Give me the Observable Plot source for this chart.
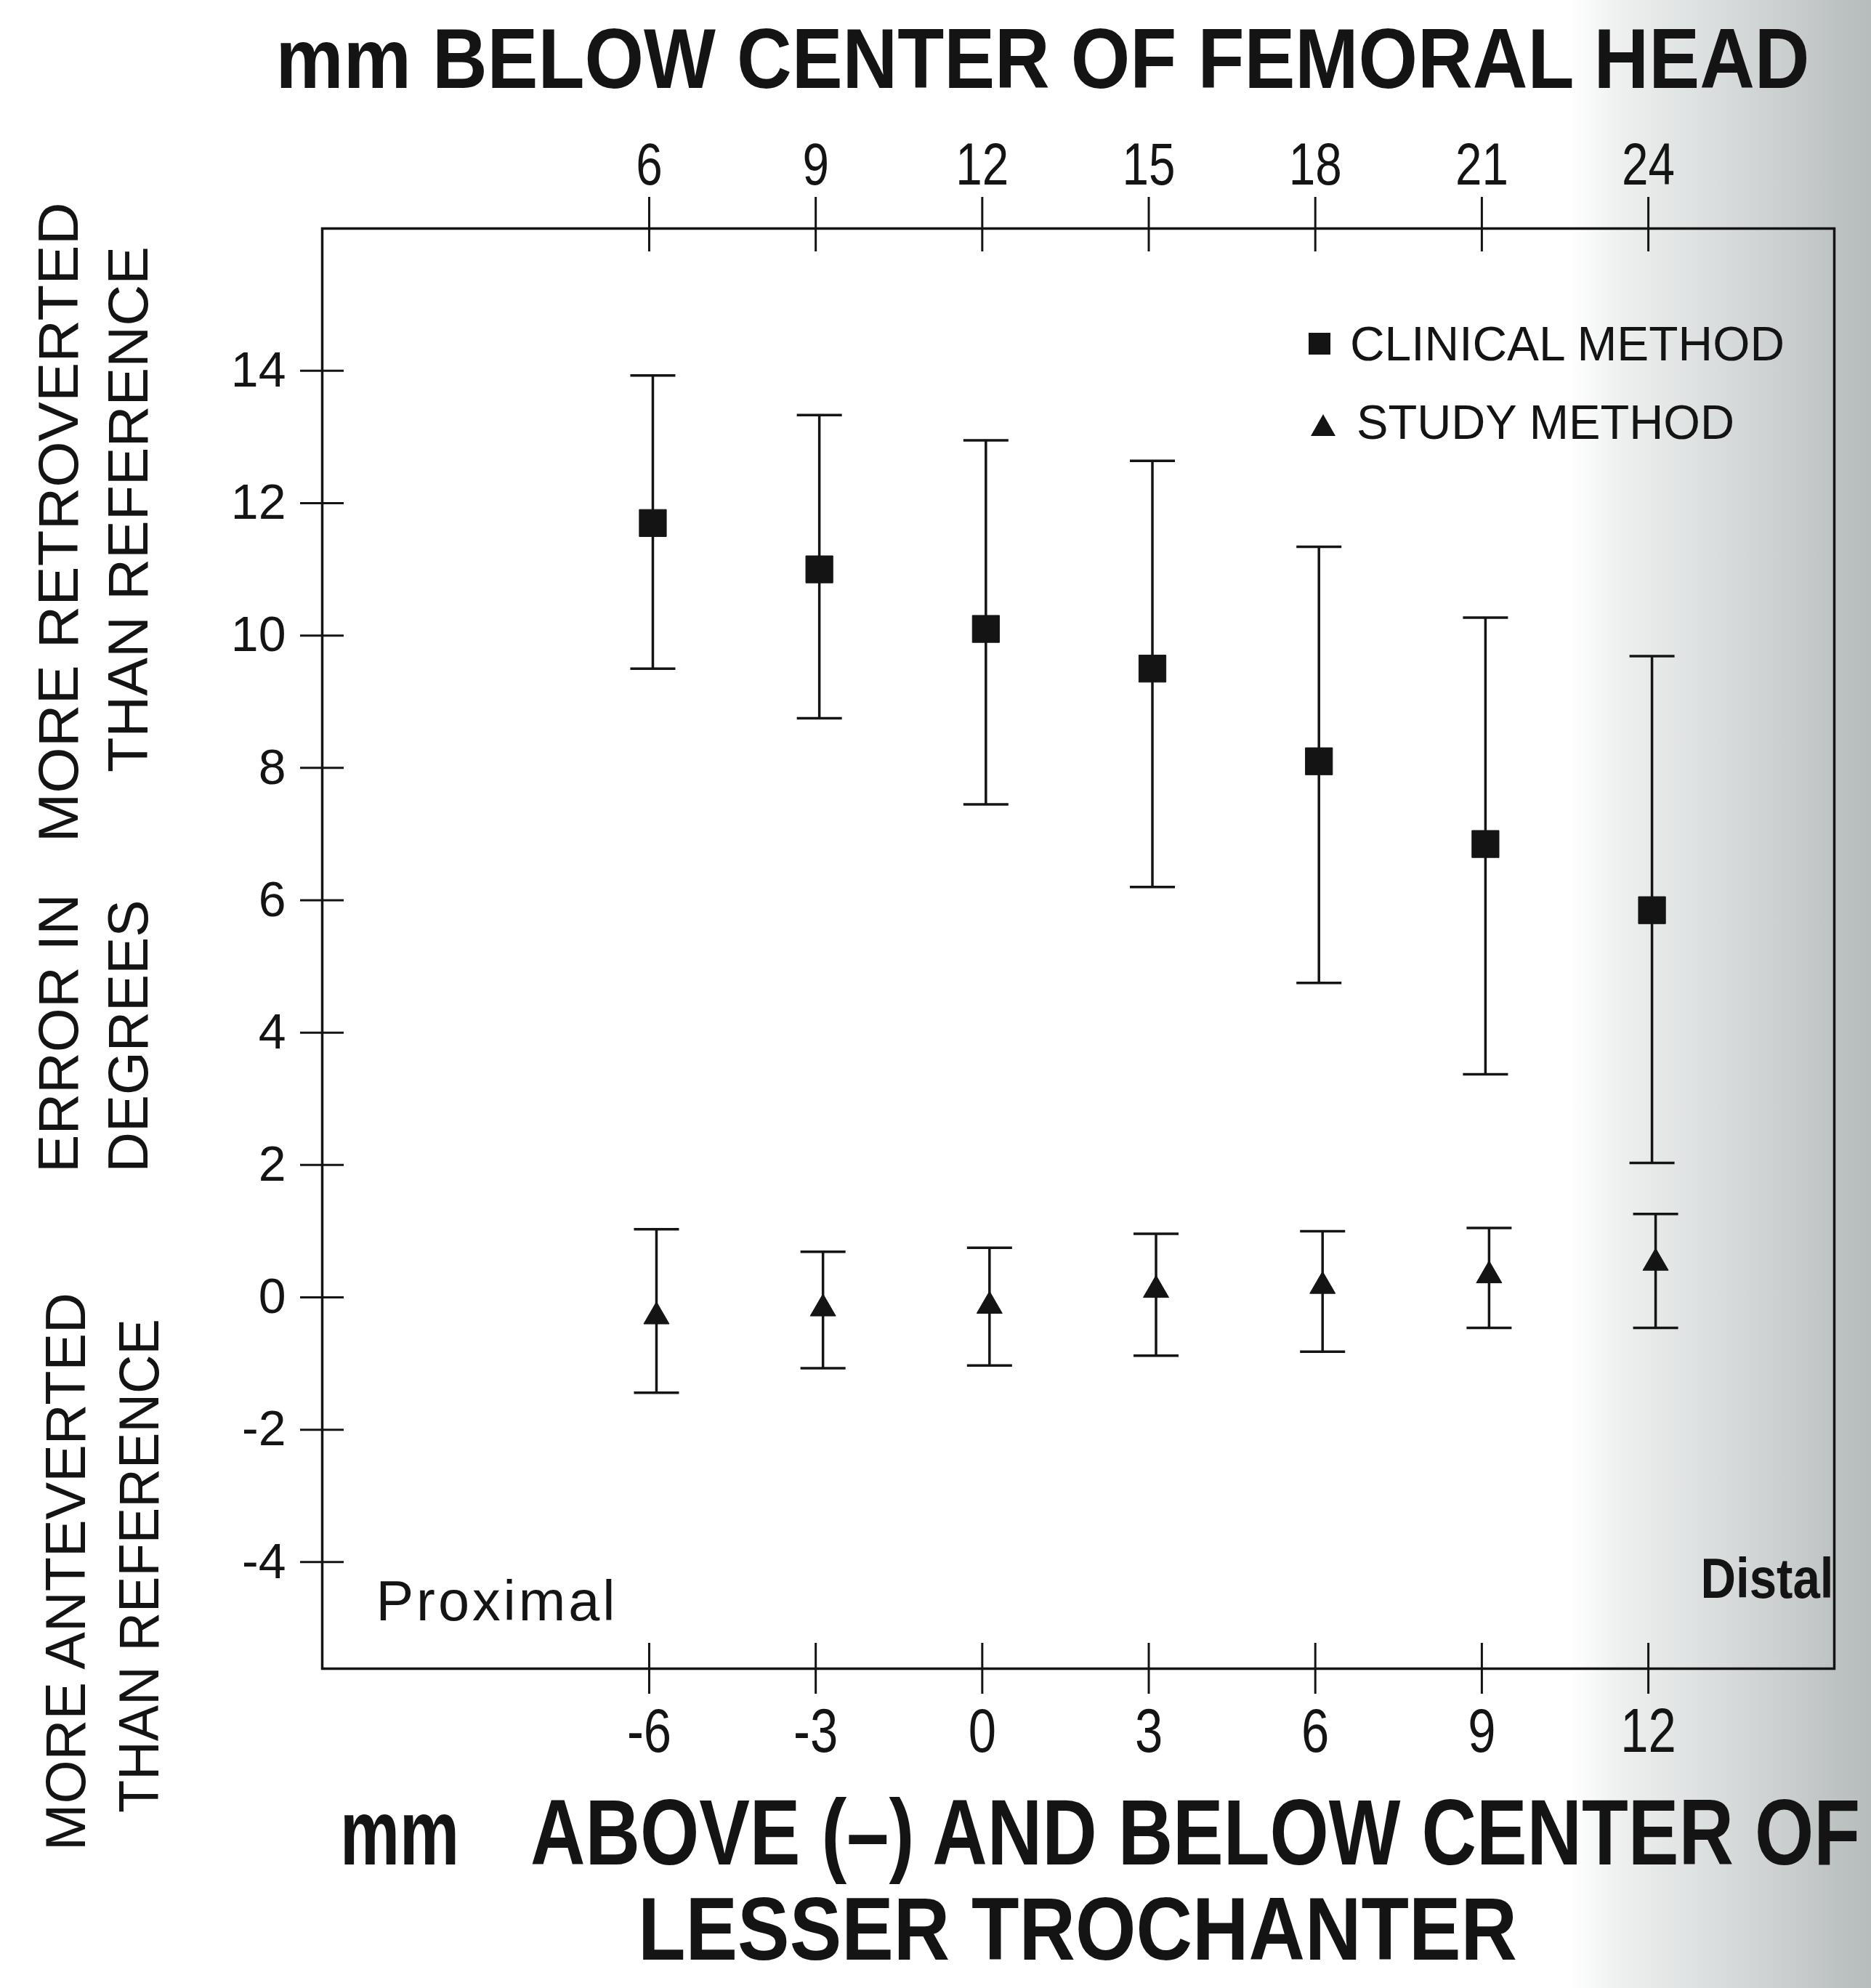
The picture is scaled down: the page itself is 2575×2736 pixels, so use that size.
<!DOCTYPE html>
<html>
<head>
<meta charset="utf-8">
<script src="https://cdn.jsdelivr.net/npm/d3@7"></script>
<script src="https://cdn.jsdelivr.net/npm/@observablehq/plot@0.6"></script>
<style>
html, body { margin: 0; padding: 0; }
body {
  width: 2575px; height: 2736px; overflow: hidden;
  background: linear-gradient(to right, #ffffff 0px, #ffffff 2160px, #eef0f0 2230px, #dcdfdf 2350px, #cacece 2460px, #bcc1c1 2530px, #b7bcbc 2575px);
}
#wrap { position: relative; width: 2575px; height: 2736px; font-family: "Liberation Sans", Arial, Helvetica, sans-serif; color: #141414; }
#wrap > svg { position: absolute; left: 0; top: 0; }
.lbl { position: absolute; left: 0; top: 0; white-space: pre; line-height: 0.8; transform-origin: 0 0; }
</style>
</head>
<body>
<div id="wrap"></div>
<script>
// ---- data ----
const positions = [-6, -3, 0, 3, 6, 9, 12];           // mm above(-)/below lesser trochanter
const xTicks = [-6, -3, 0, 3, 6, 9, 12];
const yTicks = [-4, -2, 0, 2, 4, 6, 8, 10, 12, 14];
const topOffset = 12;                                   // mm below femoral head = value + 12
const clinicalMean = [11.7, 11.0, 10.1, 9.5, 8.1, 6.85, 5.85];
const clinicalLow  = [9.5, 8.75, 7.45, 6.2, 4.75, 3.37, 2.03];
const clinicalHigh = [13.93, 13.33, 12.95, 12.64, 11.34, 10.27, 9.69];
const studyMean = [-0.29, -0.17, -0.13, 0.11, 0.17, 0.33, 0.52];
const studyLow  = [-1.44, -1.07, -1.03, -0.88, -0.82, -0.46, -0.46];
const studyHigh = [1.03, 0.69, 0.75, 0.96, 1.0, 1.05, 1.26];
const seriesNames = ["CLINICAL METHOD", "STUDY METHOD"];

const ink = "#141414";
const font = '"Liberation Sans", Arial, Helvetica, sans-serif';

const clinical = positions.map((x, i) => ({x, mean: clinicalMean[i], lo: clinicalLow[i], hi: clinicalHigh[i]}));
const study = positions.map((x, i) => ({x, mean: studyMean[i], lo: studyLow[i], hi: studyHigh[i]}));

// horizontal cap symbol for error bars
const hbar = {draw(ctx, size) { const w = Math.sqrt(size / Math.PI); ctx.moveTo(-w, 0); ctx.lineTo(w, 0); }};

function errorMarks(data, symbol, r, dx) {
  return [
    Plot.ruleX(data, {x: "x", y1: "lo", y2: "hi", stroke: ink, strokeWidth: 3.5, dx}),
    Plot.dot(data, {x: "x", y: "lo", symbol: hbar, r: 31, stroke: ink, strokeWidth: 3.5, fill: "none", dx}),
    Plot.dot(data, {x: "x", y: "hi", symbol: hbar, r: 31, stroke: ink, strokeWidth: 3.5, fill: "none", dx}),
    Plot.dot(data, {x: "x", y: "mean", symbol, r, fill: ink, stroke: ink, strokeWidth: 1, dx})
  ];
}

const chart = Plot.plot({
  width: 2575,
  height: 2736,
  marginLeft: 443,
  marginRight: 51,
  marginTop: 314,
  marginBottom: 440,
  style: {background: "transparent", fontFamily: font, color: ink},
  x: {domain: [-11.89, 15.35]},
  y: {domain: [-5.61, 16.15]},
  marks: [
    Plot.frame({stroke: ink, strokeWidth: 3.5}),
    Plot.axisY(yTicks, {anchor: "left", tickSize: 60, dx: 30, tickPadding: 20, fontSize: 68, strokeWidth: 3, label: null, tickFormat: d => String(d)}),
    Plot.axisX(xTicks, {anchor: "top", tickSize: 75, dy: 31, tickPadding: 17, fontSize: 82, strokeWidth: 3, label: null, tickFormat: d => String(d + topOffset)}),
    Plot.axisX(xTicks, {anchor: "bottom", tickSize: 70, dy: -35, tickPadding: 18, fontSize: 86, strokeWidth: 3, label: null, tickFormat: d => String(d)}),
    ...errorMarks(clinical, "square", 21, 5),
    ...errorMarks(study, "triangle", 13, 10)
  ]
});

// condense the x tick labels like the original lettering
d3.select(chart).selectAll('g[aria-label="x-axis tick label"] text').each(function() {
  const t = this.getAttribute("transform");
  if (t) this.setAttribute("transform", t + " scale(0.8,1)");
});

const wrap = document.getElementById("wrap");
wrap.appendChild(chart);

function label(txt, {cx, cy, len, size, weight = 400, rotate = 0, spacing = 0}) {
  const d = document.createElement("div");
  d.className = "lbl";
  d.textContent = txt;
  d.style.fontSize = size + "px";
  d.style.fontWeight = weight;
  d.style.letterSpacing = spacing + "px";
  wrap.appendChild(d);
  const w = d.getBoundingClientRect().width;
  const sx = len ? len / w : 1;
  d.style.transform = `translate(${cx}px, ${cy}px) rotate(${rotate}deg) scale(${sx},1) translate(-50%,-50%)`;
}

// titles
label("mm BELOW CENTER OF FEMORAL HEAD", {cx: 1435, cy: 81, len: 2111, size: 117, weight: 700});
label("mm", {cx: 550, cy: 2522, len: 164, size: 128, weight: 700});
label("ABOVE (\u2013) AND BELOW CENTER OF", {cx: 1645, cy: 2522, len: 1830, size: 128, weight: 700});
label("LESSER TROCHANTER", {cx: 1483, cy: 2656, len: 1210, size: 122, weight: 700});

// y-axis titles (rotated)
label("MORE RETROVERTED", {cx: 80, cy: 719, len: 881, size: 78, rotate: -90});
label("ERROR IN", {cx: 80, cy: 1422, len: 384, size: 78, rotate: -90});
label("THAN REFERENCE", {cx: 176, cy: 701, len: 724, size: 78, rotate: -90});
label("DEGREES", {cx: 176, cy: 1426, len: 375, size: 78, rotate: -90});
label("MORE ANTEVERTED", {cx: 90, cy: 2163, len: 768, size: 78, rotate: -90});
label("THAN REFERENCE", {cx: 191, cy: 2155, len: 680, size: 78, rotate: -90});

// annotations
label("Proximal", {cx: 684, cy: 2203, len: 333, size: 78, weight: 400, spacing: 4});
label("Distal", {cx: 2432, cy: 2172, len: 183, size: 78, weight: 700});

// legend
label(seriesNames[0], {cx: 2157, cy: 473, len: 598, size: 66, weight: 400});
label(seriesNames[1], {cx: 2127, cy: 581, len: 520, size: 66, weight: 400});
const ns = "http://www.w3.org/2000/svg";
const lg = document.createElementNS(ns, "svg");
lg.setAttribute("width", 2575); lg.setAttribute("height", 2736);
lg.innerHTML = `<rect x="1801" y="458" width="30" height="30" fill="${ink}"/>
<path d="M1821,570 L1838,600 L1804,600 Z" fill="${ink}"/>`;
wrap.appendChild(lg);
</script>
</body>
</html>
